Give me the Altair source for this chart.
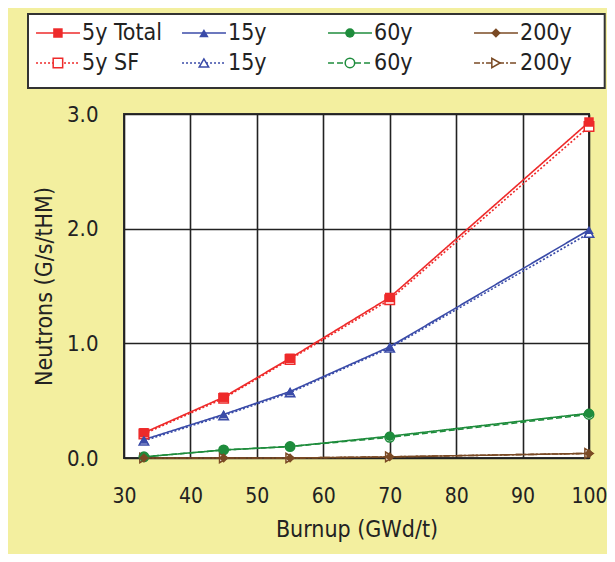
import altair as alt
import pandas as pd

# ---- data ----
burnup = [33, 45, 55, 70, 100]
total_5y = [0.22, 0.53, 0.87, 1.40, 2.93]
total_15y = [0.16, 0.38, 0.58, 0.97, 1.99]
total_60y = [0.01, 0.07, 0.10, 0.19, 0.39]
total_200y = [0.00, 0.00, 0.00, 0.01, 0.04]
sf_5y = [0.21, 0.52, 0.86, 1.38, 2.89]
sf_15y = [0.15, 0.37, 0.57, 0.96, 1.96]
sf_60y = [0.01, 0.07, 0.10, 0.18, 0.38]
sf_200y = [0.00, 0.00, 0.00, 0.01, 0.04]

series_keys = ["5y Total", "15y Total", "60y Total", "200y Total",
               "5y SF", "15y SF", "60y SF", "200y SF"]
legend_labels = ["5y Total", "15y", "60y", "200y", "5y SF", "15y", "60y", "200y"]
series_values = [total_5y, total_15y, total_60y, total_200y,
                 sf_5y, sf_15y, sf_60y, sf_200y]
x_ticks = [30, 40, 50, 60, 70, 80, 90, 100]
y_ticks = [0, 1, 2, 3]

# ---- styles ----
colors = ["#EE2A2A", "#3A4BA8", "#1E8C3C", "#7A4A24"] * 2
dashes = [[1, 0]] * 4 + [[2, 2], [2, 2], [6, 3], [6, 2, 2, 2]]
shapes = ["square", "triangle-up", "circle", "diamond",
          "square", "triangle-up", "circle", "triangle-right"]
sizes = [90, 90, 70, 30, 60, 50, 50, 40]
FONT = "Liberation Sans Narrow, DejaVu Sans Condensed, sans-serif"
BG = "#F3EF9F"

rows = []
for k, vals in zip(series_keys, series_values):
    for b, v in zip(burnup, vals):
        rows.append({"key": k, "burnup": b, "value": v,
                     "kind": "SF" if k.endswith("SF") else "Total"})
df = pd.DataFrame(rows)

color_scale = alt.Scale(domain=series_keys, range=colors)
dash_scale = alt.Scale(domain=series_keys, range=dashes)
shape_scale = alt.Scale(domain=series_keys, range=shapes)
size_scale = alt.Scale(domain=series_keys, range=sizes)

x_enc = alt.X("burnup:Q", scale=alt.Scale(domain=[30, 100], nice=False),
              axis=alt.Axis(values=x_ticks, title="Burnup (GWd/t)", tickSize=0,
                            labelPadding=27, titlePadding=12, labelFlush=False,
                            labelFontSize=21))
y_enc = alt.Y("value:Q", scale=alt.Scale(domain=[0, 3], nice=False),
              axis=alt.Axis(values=y_ticks, format=".1f", title="Neutrons (G/s/tHM)",
                            tickSize=0, labelPadding=26, titlePadding=10, labelFlush=False,
                            labelFontSize=22))

base = alt.Chart(df)
lines = base.mark_line(strokeWidth=1.6).encode(
    x=x_enc, y=y_enc,
    color=alt.Color("key:N", scale=color_scale, legend=None),
    strokeDash=alt.StrokeDash("key:N", scale=dash_scale, legend=None),
    detail="key:N",
)
pts_total = base.transform_filter(alt.datum.kind == "Total").mark_point(
    filled=True, opacity=1).encode(
    x="burnup:Q", y="value:Q",
    color=alt.Color("key:N", scale=color_scale, legend=None),
    shape=alt.Shape("key:N", scale=shape_scale, legend=None),
    size=alt.Size("key:N", scale=size_scale, legend=None),
)
pts_sf = base.transform_filter(alt.datum.kind == "SF").mark_point(
    filled=False, opacity=1, strokeWidth=1.5, fill="white", fillOpacity=1).encode(
    x="burnup:Q", y="value:Q",
    stroke=alt.Stroke("key:N", scale=color_scale, legend=None),
    shape=alt.Shape("key:N", scale=shape_scale, legend=None),
    size=alt.Size("key:N", scale=size_scale, legend=None),
)
main = alt.layer(lines, pts_sf, pts_total)

# ---- legend panel (own scales) ----
leg_df = pd.DataFrame({
    "key": series_keys,
    "label": legend_labels,
    "col": [0, 1, 2, 3, 0, 1, 2, 3],
    "row": [0, 0, 0, 0, 1, 1, 1, 1],
    "kind": ["Total"] * 4 + ["SF"] * 4,
})
lx = alt.Scale(domain=[0, 4], range=[-96, 488], nice=False, zero=False)
ly = alt.Scale(domain=[0, 2], range=[-100, -26], nice=False, zero=False)

box = alt.Chart(pd.DataFrame({"a": [0], "b": [3.95], "c": [0], "d": [2]})).mark_rect(
    fill="white", stroke="#333", strokeWidth=2).encode(
    x=alt.X("a:Q", scale=lx, axis=None), x2="b:Q",
    y=alt.Y("c:Q", scale=ly, axis=None), y2="d:Q")

lbase = alt.Chart(leg_df).transform_calculate(
    x1="datum.col + 0.055", x2="datum.col + 0.356", xm="datum.col + 0.205",
    xt="datum.col + 0.37", yy="datum.row == 0 ? 0.514 : 1.324")
lrule = lbase.mark_rule(strokeWidth=1.6).encode(
    x=alt.X("x1:Q", scale=lx, axis=None), x2="x2:Q",
    y=alt.Y("yy:Q", scale=ly, axis=None),
    color=alt.Color("key:N", scale=color_scale, legend=None),
    strokeDash=alt.StrokeDash("key:N", scale=dash_scale, legend=None))
lpt_total = lbase.transform_filter(alt.datum.kind == "Total").mark_point(
    filled=True, opacity=1).encode(
    x=alt.X("xm:Q", scale=lx, axis=None), y=alt.Y("yy:Q", scale=ly, axis=None),
    color=alt.Color("key:N", scale=color_scale, legend=None),
    shape=alt.Shape("key:N", scale=shape_scale, legend=None),
    size=alt.Size("key:N", scale=size_scale, legend=None))
lpt_sf = lbase.transform_filter(alt.datum.kind == "SF").mark_point(
    filled=False, opacity=1, strokeWidth=1.5, fill="white", fillOpacity=1).encode(
    x=alt.X("xm:Q", scale=lx, axis=None), y=alt.Y("yy:Q", scale=ly, axis=None),
    stroke=alt.Stroke("key:N", scale=color_scale, legend=None),
    shape=alt.Shape("key:N", scale=shape_scale, legend=None),
    size=alt.Size("key:N", scale=size_scale, legend=None))
ltext = lbase.mark_text(align="left", baseline="middle", font=FONT, fontSize=23,
                        color="#222").encode(
    x=alt.X("xt:Q", scale=lx, axis=None), y=alt.Y("yy:Q", scale=ly, axis=None),
    text="label:N")
legend = alt.layer(box, lrule, lpt_sf, lpt_total, ltext)

chart = alt.layer(main, legend).resolve_scale(x="independent", y="independent").properties(
    width=465, height=344, background=BG,
    autosize=alt.AutoSizeParams(type="none"),
    padding={"left": 116, "top": 106, "right": 18, "bottom": 96},
).configure_view(fill="white", stroke="#333", strokeWidth=2).configure_axis(
    grid=True, gridColor="#222", gridWidth=1.6, gridOpacity=1, domain=False,
    labelFont=FONT, labelFontSize=23, labelColor="#222",
    titleFont=FONT, titleFontSize=23, titleFontWeight="normal", titleColor="#222",
)

chart.save("out.html", embed_options={"renderer": "svg", "actions": False})
